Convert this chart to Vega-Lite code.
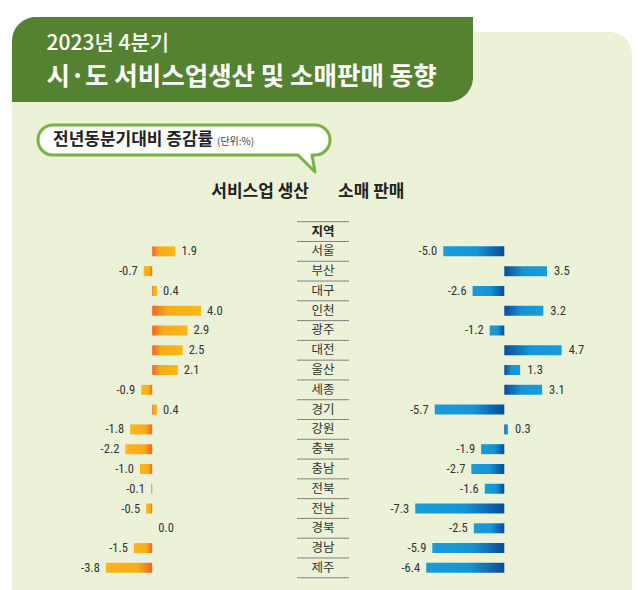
{
  "$schema": "https://vega.github.io/schema/vega-lite/v6.json",
  "background": "#ecf2d8",
  "padding": 0,
  "spacing": 0,
  "config": {
    "view": {"stroke": null},
    "concat": {"spacing": 0},
    "locale": {"number": {"decimal": ".", "thousands": ",", "grouping": [3], "currency": ["", ""], "minus": "-"}}
  },
  "datasets": {
    "main": [
      {"region": "서울", "svc": 1.9, "retail": -5.0},
      {"region": "부산", "svc": -0.7, "retail": 3.5},
      {"region": "대구", "svc": 0.4, "retail": -2.6},
      {"region": "인천", "svc": 4.0, "retail": 3.2},
      {"region": "광주", "svc": 2.9, "retail": -1.2},
      {"region": "대전", "svc": 2.5, "retail": 4.7},
      {"region": "울산", "svc": 2.1, "retail": 1.3},
      {"region": "세종", "svc": -0.9, "retail": 3.1},
      {"region": "경기", "svc": 0.4, "retail": -5.7},
      {"region": "강원", "svc": -1.8, "retail": 0.3},
      {"region": "충북", "svc": -2.2, "retail": -1.9},
      {"region": "충남", "svc": -1.0, "retail": -2.7},
      {"region": "전북", "svc": -0.1, "retail": -1.6},
      {"region": "전남", "svc": -0.5, "retail": -7.3},
      {"region": "경북", "svc": 0.0, "retail": -2.5},
      {"region": "경남", "svc": -1.5, "retail": -5.9},
      {"region": "제주", "svc": -3.8, "retail": -6.4}
    ]
  },
  "vconcat": [
    {"width": 640, "height": 17, "view": {"fill": "white"}, "data": {"values": [{}]}, "mark": {"type": "point", "opacity": 0}},
    {
      "spacing": 0, "bounds": "flush",
      "hconcat": [
        {"width": 12, "height": 85, "view": {"fill": "white"}, "data": {"values": [{}]}, "mark": {"type": "point", "opacity": 0}},
        {
          "width": 461, "height": 85,
          "data": {"values": [{}]},
          "layer": [
            {"mark": {"type": "rect", "color": {"gradient": "linear", "x1": 0, "y1": 0, "x2": 1, "y2": 1, "stops": [{"offset": 0, "color": "#ffffff"}, {"offset": 0.5, "color": "#ffffff"}, {"offset": 0.5, "color": "#ecf2d8"}, {"offset": 1, "color": "#ecf2d8"}]}}},
            {"mark": {"type": "rect", "color": "#548230", "cornerRadiusTopLeft": 24, "cornerRadiusBottomRight": 25}},
            {"mark": {"type": "text", "text": "2023년 4분기", "align": "left", "baseline": "middle", "dx": -196, "dy": -15.5, "font": "Noto Sans CJK KR", "fontSize": 21, "fontWeight": 500, "color": "white"}},
            {"mark": {"type": "text", "text": "시·도 서비스업생산 및 소매판매 동향", "align": "left", "baseline": "middle", "dx": -196, "dy": 17, "font": "Noto Sans CJK KR", "fontSize": 25.5, "fontWeight": "bold", "color": "white"}}
          ]
        },
        {
          "width": 167, "height": 85,
          "view": {"fill": "white"},
          "data": {"values": [{}]},
          "mark": {"type": "rect", "color": "#ecf2d8", "cornerRadiusTopRight": 23, "yOffset": 15, "xOffset": -8}
        }
      ]
    },
    {
      "spacing": 0, "bounds": "flush",
      "hconcat": [
        {"width": 12, "height": 73, "view": {"fill": "white"}, "data": {"values": [{}]}, "mark": {"type": "point", "opacity": 0}},
        {
          "width": 620, "height": 73,
          "data": {"values": [{}]},
          "layer": [
            {"mark": {"type": "point", "shape": "M -269 -13.5 L -7 -13.5 A 15 15 0 0 1 -7 16.5 L -10 16.5 L -7 33.5 L -24 16.5 L -269 16.5 A 15 15 0 0 1 -269 -13.5 Z", "size": 4, "filled": true, "fill": "white", "stroke": "#79b142", "strokeWidth": 3, "strokeJoin": "round", "opacity": 1}},
            {"mark": {"type": "text", "text": "전년동분기대비 증감률", "align": "left", "baseline": "middle", "dx": -269, "dy": 1.5, "font": "Noto Sans CJK KR", "fontSize": 17, "fontWeight": "bold", "color": "#222222"}},
            {"mark": {"type": "text", "text": "(단위:%)", "align": "left", "baseline": "middle", "dx": -105, "dy": 3, "font": "Noto Sans CJK KR", "fontSize": 10, "color": "#444444"}}
          ]
        },
        {"width": 8, "height": 73, "view": {"fill": "white"}, "data": {"values": [{}]}, "mark": {"type": "point", "opacity": 0}}
      ]
    },
    {
      "spacing": 0, "bounds": "flush",
      "hconcat": [
        {"width": 12, "height": 415, "view": {"fill": "white"}, "data": {"values": [{}]}, "mark": {"type": "point", "opacity": 0}},
        {
          "width": 285, "height": 415,
          "data": {"name": "main"},
          "encoding": {"y": {"field": "region", "type": "nominal", "axis": null, "scale": {"type": "band", "domain": ["colhdr", "gap", "지역", "서울", "부산", "대구", "인천", "광주", "대전", "울산", "세종", "경기", "강원", "충북", "충남", "전북", "전남", "경북", "경남", "제주"], "paddingInner": 0, "paddingOuter": 0.49, "align": 0.368}}},
          "layer": [
            {"transform": [{"filter": "datum.svc >= 0"}], "mark": {"type": "bar", "size": 10, "color": {"gradient": "linear", "x1": 0, "y1": 0, "x2": 1, "y2": 0, "stops": [{"offset": 0, "color": "#f26522"}, {"offset": 0.3, "color": "#fbaa1a"}, {"offset": 1, "color": "#fdb716"}]}}, "encoding": {"x": {"field": "svc", "type": "quantitative", "stack": null, "axis": null, "scale": {"domain": [-11.492, 11.869], "nice": false, "zero": false}}}},
            {"transform": [{"filter": "datum.svc < 0"}], "mark": {"type": "bar", "size": 10, "color": {"gradient": "linear", "x1": 1, "y1": 0, "x2": 0, "y2": 0, "stops": [{"offset": 0, "color": "#f26522"}, {"offset": 0.3, "color": "#fbaa1a"}, {"offset": 1, "color": "#fdb716"}]}}, "encoding": {"x": {"field": "svc", "type": "quantitative", "stack": null, "axis": null, "scale": {"domain": [-11.492, 11.869], "nice": false, "zero": false}}}},
            {"transform": [{"filter": "datum.svc >= 0"}], "mark": {"type": "text", "align": "left", "baseline": "middle", "dx": 6, "font": "Liberation Sans Narrow, Roboto Condensed, Roboto, sans-serif", "fontSize": 12.5, "color": "#333333"}, "encoding": {"x": {"field": "svc", "type": "quantitative", "axis": null, "scale": {"domain": [-11.492, 11.869], "nice": false, "zero": false}}, "text": {"field": "svc", "type": "quantitative", "format": ".1f"}}},
            {"transform": [{"filter": "datum.svc < 0"}], "mark": {"type": "text", "align": "right", "baseline": "middle", "dx": -6, "font": "Liberation Sans Narrow, Roboto Condensed, Roboto, sans-serif", "fontSize": 12.5, "color": "#333333"}, "encoding": {"x": {"field": "svc", "type": "quantitative", "axis": null, "scale": {"domain": [-11.492, 11.869], "nice": false, "zero": false}}, "text": {"field": "svc", "type": "quantitative", "format": ".1f"}}}
          ]
        },
        {
          "width": 52, "height": 415,
          "encoding": {"y": {"field": "region", "type": "nominal", "axis": null, "scale": {"type": "band", "domain": ["colhdr", "gap", "지역", "서울", "부산", "대구", "인천", "광주", "대전", "울산", "세종", "경기", "강원", "충북", "충남", "전북", "전남", "경북", "경남", "제주"], "paddingInner": 0, "paddingOuter": 0.49, "align": 0.368}}},
          "layer": [
            {"data": {"name": "main"}, "mark": {"type": "rule", "color": "#808080", "strokeWidth": 1}, "encoding": {"y": {"field": "region", "type": "nominal", "bandPosition": 0, "axis": null}}},
            {"data": {"values": [{"region": "지역"}]}, "mark": {"type": "rule", "color": "#808080", "strokeWidth": 1}, "encoding": {"y": {"field": "region", "type": "nominal", "bandPosition": 0, "axis": null}}},
            {"data": {"values": [{"region": "제주"}]}, "mark": {"type": "rule", "color": "#808080", "strokeWidth": 1}, "encoding": {"y": {"field": "region", "type": "nominal", "bandPosition": 1, "axis": null}}},
            {"data": {"name": "main"}, "mark": {"type": "text", "baseline": "middle", "font": "Noto Sans CJK KR", "fontSize": 12.5, "color": "#333333"}, "encoding": {"text": {"field": "region"}}},
            {"data": {"values": [{"region": "지역", "label": "지역"}]}, "mark": {"type": "text", "baseline": "middle", "font": "Noto Sans CJK KR", "fontSize": 12.5, "fontWeight": "bold", "color": "#222222"}, "encoding": {"text": {"field": "label"}}},
            {"data": {"values": [{"region": "colhdr", "label": "서비스업 생산"}]}, "mark": {"type": "text", "align": "right", "baseline": "middle", "dx": -14, "font": "Noto Sans CJK KR", "fontSize": 17, "fontWeight": "bold", "color": "#222222"}, "encoding": {"text": {"field": "label"}}},
            {"data": {"values": [{"region": "colhdr", "label": "소매 판매"}]}, "mark": {"type": "text", "align": "left", "baseline": "middle", "dx": 15, "font": "Noto Sans CJK KR", "fontSize": 17, "fontWeight": "bold", "color": "#222222"}, "encoding": {"text": {"field": "label"}}}
          ]
        },
        {
          "width": 283, "height": 415,
          "data": {"name": "main"},
          "encoding": {"y": {"field": "region", "type": "nominal", "axis": null, "scale": {"type": "band", "domain": ["colhdr", "gap", "지역", "서울", "부산", "대구", "인천", "광주", "대전", "울산", "세종", "경기", "강원", "충북", "충남", "전북", "전남", "경북", "경남", "제주"], "paddingInner": 0, "paddingOuter": 0.49, "align": 0.368}}},
          "layer": [
            {"transform": [{"filter": "datum.retail >= 0"}], "mark": {"type": "bar", "size": 10, "color": {"gradient": "linear", "x1": 0, "y1": 0, "x2": 1, "y2": 0, "stops": [{"offset": 0, "color": "#0a4c97"}, {"offset": 0.45, "color": "#1595d5"}, {"offset": 1, "color": "#1b9bda"}]}}, "encoding": {"x": {"field": "retail", "type": "quantitative", "stack": null, "axis": null, "scale": {"domain": [-12.73, 10.467], "nice": false, "zero": false}}}},
            {"transform": [{"filter": "datum.retail < 0"}], "mark": {"type": "bar", "size": 10, "color": {"gradient": "linear", "x1": 1, "y1": 0, "x2": 0, "y2": 0, "stops": [{"offset": 0, "color": "#0a4c97"}, {"offset": 0.45, "color": "#1595d5"}, {"offset": 1, "color": "#1b9bda"}]}}, "encoding": {"x": {"field": "retail", "type": "quantitative", "stack": null, "axis": null, "scale": {"domain": [-12.73, 10.467], "nice": false, "zero": false}}}},
            {"transform": [{"filter": "datum.retail >= 0"}], "mark": {"type": "text", "align": "left", "baseline": "middle", "dx": 7, "font": "Liberation Sans Narrow, Roboto Condensed, Roboto, sans-serif", "fontSize": 12.5, "color": "#333333"}, "encoding": {"x": {"field": "retail", "type": "quantitative", "axis": null, "scale": {"domain": [-12.73, 10.467], "nice": false, "zero": false}}, "text": {"field": "retail", "type": "quantitative", "format": ".1f"}}},
            {"transform": [{"filter": "datum.retail < 0"}], "mark": {"type": "text", "align": "right", "baseline": "middle", "dx": -6, "font": "Liberation Sans Narrow, Roboto Condensed, Roboto, sans-serif", "fontSize": 12.5, "color": "#333333"}, "encoding": {"x": {"field": "retail", "type": "quantitative", "axis": null, "scale": {"domain": [-12.73, 10.467], "nice": false, "zero": false}}, "text": {"field": "retail", "type": "quantitative", "format": ".1f"}}}
          ]
        },
        {"width": 8, "height": 415, "view": {"fill": "white"}, "data": {"values": [{}]}, "mark": {"type": "point", "opacity": 0}}
      ]
    }
  ]
}
